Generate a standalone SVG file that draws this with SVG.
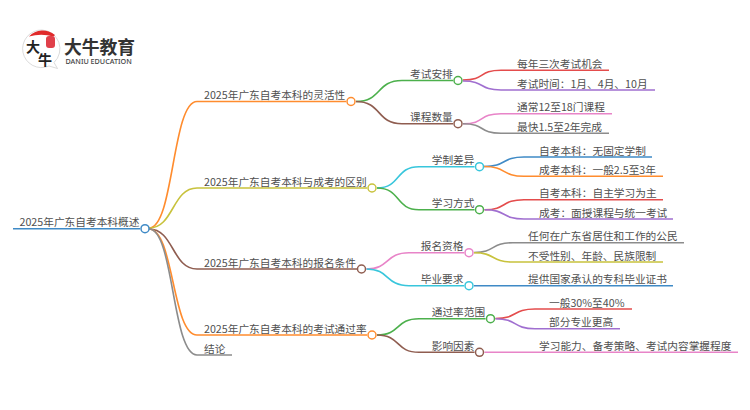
<svg xmlns="http://www.w3.org/2000/svg" width="750" height="410" viewBox="0 0 750 410">
<style>
text{font-family:"Noto Sans CJK SC","Noto Sans",sans-serif;font-size:10.7px;fill:#4f4f4f}
.c path,.c line{fill:none;stroke-width:1.6}
circle.n{fill:#fff;stroke-width:1.5}
.blue{stroke:#3f8ac6}.or{stroke:#ff8c2e}.ol{stroke:#c8c23c}.br{stroke:#8f5d50}.gr{stroke:#8c8c8c}.gn{stroke:#4cb04c}.rd{stroke:#e44c4c}.pu{stroke:#a06fd0}.pk{stroke:#e884c8}.cy{stroke:#38c6dc}
</style>
<rect width="750" height="410" fill="#fff"/>
<g id="logo">
<path d="M42 30A18.800 18.800 0 1 0 49 66L57.500 68.500L54 62.500A18.800 18.800 0 0 0 42 30Z" fill="#fff" stroke="#ccc" stroke-width="0.7"/>
<path d="M29 36.500A18.800 18.800 0 0 1 55 35L53.500 36.500Q41 33 29 36.500Z" fill="#e02a2a"/>
<rect x="46" y="36" width="9" height="12" rx="3" fill="#e0404a"/>
<text x="26" y="52" style="font-size:14px;font-weight:700;fill:#222">大</text>
<text x="38" y="65" style="font-size:14px;font-weight:700;fill:#222">牛</text>
<text x="64" y="53.500" style="font-size:17.800px;font-weight:700;fill:#333">大牛教育</text>
<text x="65.500" y="63.500" style="font-size:7.200px;font-weight:500;fill:#444;font-family:'Noto Sans',sans-serif">DANIU EDUCATION</text>
</g>
<g class="c" id="connectors">
<line class="blue" x1="13" y1="228.700" x2="140" y2="228.700"/>
<path class="or" d="M149 228C174 228 172 101.500 197 101.500H346"/>
<path class="ol" d="M149 228C174 228 172 188 197 188H367"/>
<path class="br" d="M149 229C174 229 172 269 197 269H357"/>
<path class="or" d="M149 229C174 229 172 335 197 335H367"/>
<path class="gr" d="M149 229C174 229 172 355 197 355H232"/>
<path class="gn" d="M356 101.500C382 101.500 376 80.500 402 80.500H453"/>
<path class="br" d="M356 101.500C382 101.500 376 123.700 402 123.700H453"/>
<path class="rd" d="M463 80C486 80 478 70.300 501 70.300H609"/>
<path class="pu" d="M463 81C486 81 478 90 501 90H655"/>
<path class="pk" d="M463 123.700C486 123.700 478 113.700 501 113.700H612"/>
<path class="gr" d="M463 123.700C486 123.700 478 133.300 501 133.300H609"/>
<path class="cy" d="M377 188C401 188 395 166.700 419 166.700H474.500"/>
<path class="gn" d="M377 188C401 188 395 209.700 419 209.700H474.500"/>
<path class="blue" d="M484 166.500C507 166.500 501 157 524 157H652"/>
<path class="or" d="M484 166.500C507 166.500 501 176.300 524 176.300H663"/>
<path class="rd" d="M484.500 209.700C507 209.700 501 199.700 524 199.700H663"/>
<path class="pu" d="M484.500 209.700C507 209.700 501 219 524 219H673"/>
<path class="pk" d="M366.500 269C390 269 385 252.700 409 252.700H464"/>
<path class="cy" d="M366.500 269C390 269 385 285.700 409 285.700H464"/>
<path class="gr" d="M474 252.500C496 252.500 490 242.700 513 242.700H684"/>
<path class="ol" d="M474 252.700C496 252.700 490 262 513 262H663"/>
<line class="blue" x1="474" y1="285.700" x2="673" y2="285.700"/>
<path class="gn" d="M377 335C401 335 395 318.700 419 318.700H485.500"/>
<path class="br" d="M377 335C401 335 395 352.300 419 352.300H474.500"/>
<path class="rd" d="M495.500 318.500C518 318.500 512 309 535 309H632"/>
<path class="pu" d="M495.500 318.700C518 318.700 512 328.700 535 328.700H620"/>
<line class="pk" x1="484.500" y1="352.300" x2="738" y2="352.300"/>
</g>
<g id="root"><text x="19.500" y="226">2025年广东自考本科概述</text><circle class="n blue" cx="145" cy="228.700" r="4"/></g>
<g id="b1"><text x="204" y="99">2025年广东自考本科的灵活性</text><circle class="n or" cx="351" cy="101.500" r="4"/></g>
<g id="b2"><text x="204" y="185.500">2025年广东自考本科与成考的区别</text><circle class="n ol" cx="372" cy="188" r="4"/></g>
<g id="b3"><text x="204" y="266.500">2025年广东自考本科的报名条件</text><circle class="n br" cx="361.500" cy="269" r="4"/></g>
<g id="b4"><text x="204" y="332.500">2025年广东自考本科的考试通过率</text><circle class="n or" cx="372" cy="335" r="4"/></g>
<g id="b5"><text x="204" y="352.500">结论</text></g>
<g id="s1"><text x="410" y="78">考试安排</text><circle class="n gn" cx="458" cy="80.500" r="4"/></g>
<g id="s2"><text x="410" y="121">课程数量</text><circle class="n br" cx="458" cy="123.700" r="4"/></g>
<g id="s3"><text x="431.700" y="164">学制差异</text><circle class="n cy" cx="479.500" cy="166.700" r="4"/></g>
<g id="s4"><text x="431.700" y="207">学习方式</text><circle class="n gn" cx="479.500" cy="209.700" r="4"/></g>
<g id="s5"><text x="420.700" y="250">报名资格</text><circle class="n pk" cx="469" cy="252.700" r="4"/></g>
<g id="s6"><text x="420.700" y="283">毕业要求</text><circle class="n cy" cx="469" cy="285.700" r="4"/></g>
<g id="s7"><text x="431.700" y="316">通过率范围</text><circle class="n gn" cx="490.500" cy="318.700" r="4"/></g>
<g id="s8"><text x="431.700" y="349.500">影响因素</text><circle class="n br" cx="479.500" cy="352.300" r="4"/></g>
<g id="l1"><text x="517" y="67.500">每年三次考试机会</text></g>
<g id="l2"><text x="517" y="87.500">考试时间：1月、4月、10月</text></g>
<g id="l3"><text x="517" y="111">通常12至18门课程</text></g>
<g id="l4"><text x="517" y="130.500">最快1.5至2年完成</text></g>
<g id="l5"><text x="539" y="154.500">自考本科：无固定学制</text></g>
<g id="l6"><text x="539" y="173.500">成考本科：一般2.5至3年</text></g>
<g id="l7"><text x="539" y="197">自考本科：自主学习为主</text></g>
<g id="l8"><text x="539" y="216.500">成考：面授课程与统一考试</text></g>
<g id="l9"><text x="528" y="240">任何在广东省居住和工作的公民</text></g>
<g id="l10"><text x="528" y="259.500">不受性别、年龄、民族限制</text></g>
<g id="l11"><text x="528" y="283">提供国家承认的专科毕业证书</text></g>
<g id="l12"><text x="549" y="306.500">一般30%至40%</text></g>
<g id="l13"><text x="549" y="326">部分专业更高</text></g>
<g id="l14"><text x="539" y="349.500">学习能力、备考策略、考试内容掌握程度</text></g>
</svg>
